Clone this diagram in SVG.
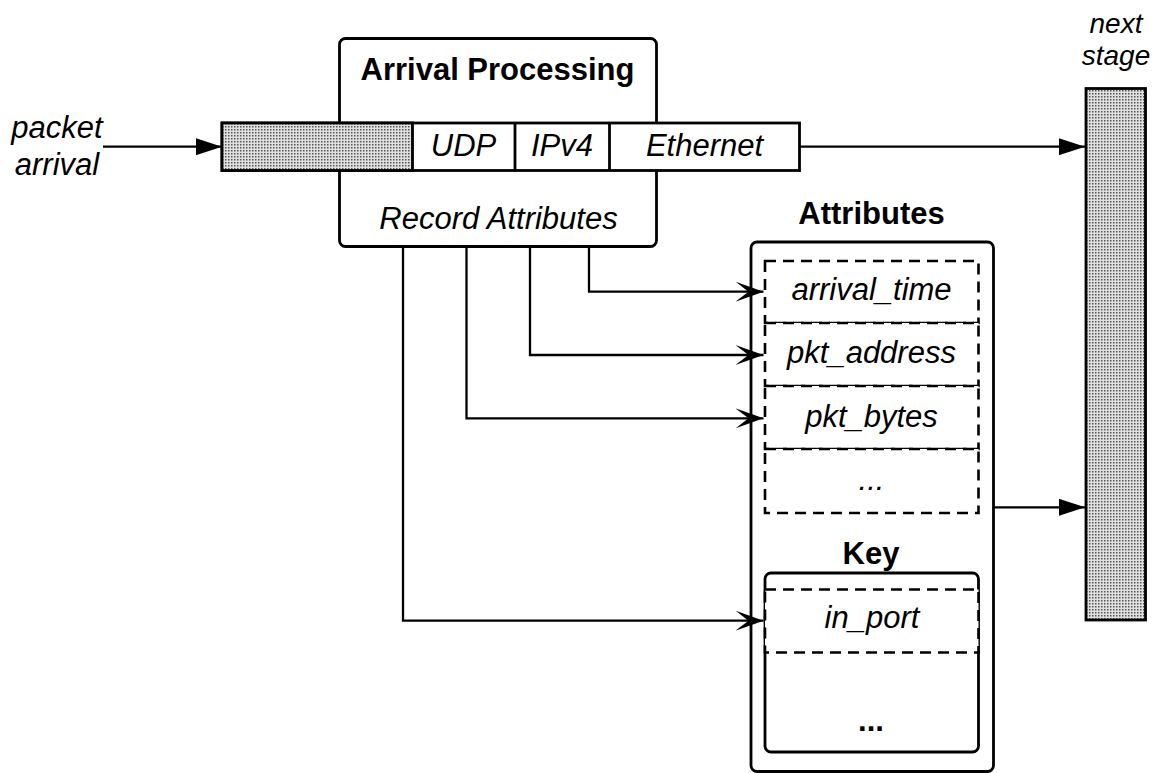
<svg xmlns="http://www.w3.org/2000/svg" width="1169" height="773" viewBox="0 0 1169 773">
  <style>
    .box { fill: #fff; stroke: #000; stroke-width: 2.8; }
    .dash { fill: #fff; stroke: #000; stroke-width: 2.6; stroke-dasharray: 11 7; }
    .shade { fill: url(#dots); stroke: #000; stroke-width: 2.8; }
    .wire { fill: none; stroke: #000; stroke-width: 2.3; }
    .t { font-family: "Liberation Sans", Arial, sans-serif; font-size: 31px; fill: #000; text-anchor: middle; }
    .b { font-weight: bold; }
    .i { font-style: italic; }
  </style>
  <defs>
    <pattern id="dots" patternUnits="userSpaceOnUse" x="0" y="0" width="3" height="3">
      <rect width="3" height="3" fill="#e0e0e0"/>
      <rect width="1.5" height="1.5" fill="#555"/>
    </pattern>
    <marker id="tri" markerUnits="userSpaceOnUse" viewBox="0 0 26 17" refX="26" refY="8.5" markerWidth="26" markerHeight="17" orient="auto">
      <path d="M0,0 L26,8.5 L0,17 Z" fill="#000"/>
    </marker>
    <marker id="notch" markerUnits="userSpaceOnUse" viewBox="0 0 28 20" refX="28" refY="10" markerWidth="28" markerHeight="20" orient="auto">
      <path d="M0,0 L28,10 L0,20 L13,10 Z" fill="#000"/>
    </marker>
  </defs>

  <!-- arrival processing block with the packet passing through it -->
  <g id="arrival-processing">
    <rect class="box" x="339.5" y="38.5" width="317" height="208" rx="6"/>
    <text class="t b" x="497.5" y="80">Arrival Processing</text>
    <text class="t i" x="498.5" y="229">Record Attributes</text>
  </g>

  <g id="packet">
    <rect class="box" x="222" y="123" width="577.5" height="47.5"/>
    <rect class="shade" x="222" y="123" width="190.5" height="47.5"/>
    <line class="box" x1="515" y1="123" x2="515" y2="170.5"/>
    <line class="box" x1="609.5" y1="123" x2="609.5" y2="170.5"/>
    <text class="t i" x="463.5" y="156">UDP</text>
    <text class="t i" x="562" y="156">IPv4</text>
    <text class="t i" x="704.5" y="156">Ethernet</text>
  </g>

  <g id="packet-arrival-label">
    <text class="t i" x="57" y="138">packet</text>
    <text class="t i" x="57" y="175">arrival</text>
  </g>

  <!-- attribute record with its key -->
  <g id="attributes">
    <text class="t b" x="871.5" y="224">Attributes</text>
    <rect class="box" x="751" y="242" width="242.5" height="529.5" rx="6"/>
    <rect class="dash" x="765" y="261" width="213.5" height="62"/>
    <rect class="dash" x="765" y="323" width="213.5" height="63"/>
    <rect class="dash" x="765" y="386" width="213.5" height="63"/>
    <rect class="dash" x="765" y="449" width="213.5" height="64"/>
    <text class="t i" x="871.5" y="300">arrival_time</text>
    <text class="t i" x="871.5" y="363">pkt_address</text>
    <text class="t i" x="871.5" y="426.5">pkt_bytes</text>
    <text class="t i" x="871.5" y="490">...</text>
  </g>

  <g id="key">
    <text class="t b" x="871" y="564">Key</text>
    <rect class="box" x="765" y="573" width="213.5" height="179" rx="6"/>
    <rect class="dash" x="765" y="589.5" width="213.5" height="63"/>
    <text class="t i" x="872" y="628">in_port</text>
    <text class="t b" x="871" y="731">...</text>
  </g>

  <g id="next-stage">
    <text class="t i" x="1116" y="33" style="font-size:28px">next</text>
    <text class="t i" x="1116" y="65" style="font-size:28px">stage</text>
    <rect class="shade" x="1086" y="88.5" width="59.5" height="531.5"/>
  </g>

  <!-- connectors -->
  <g id="connectors">
    <line class="wire" x1="103" y1="146.7" x2="222" y2="146.7" marker-end="url(#tri)"/>
    <line class="wire" x1="799.5" y1="146.7" x2="1085" y2="146.7" marker-end="url(#tri)"/>
    <line class="wire" x1="993.5" y1="507.3" x2="1085" y2="507.3" marker-end="url(#tri)"/>
    <polyline class="wire" points="589,246.7 589,291.7 763.5,291.7" marker-end="url(#notch)"/>
    <polyline class="wire" points="530,246.7 530,355 763.5,355" marker-end="url(#notch)"/>
    <polyline class="wire" points="466.5,246.7 466.5,418.3 763.5,418.3" marker-end="url(#notch)"/>
    <polyline class="wire" points="403,246.7 403,620.7 763.5,620.7" marker-end="url(#notch)"/>
  </g>
</svg>
